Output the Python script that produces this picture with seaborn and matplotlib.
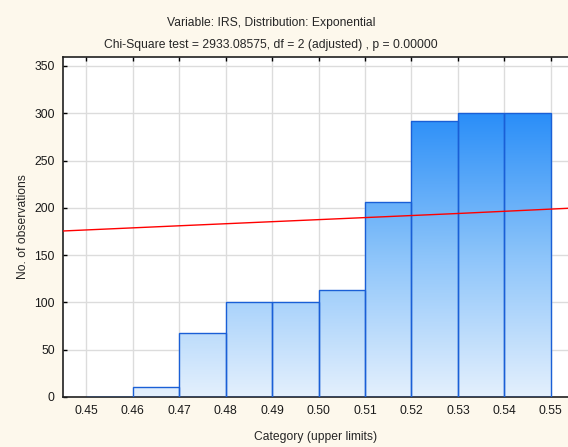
import numpy as np
import matplotlib
matplotlib.use("Agg")
import matplotlib.pyplot as plt
import seaborn as sns
from matplotlib.colors import LinearSegmentedColormap

# histogram data (upper limits of each category)
bin_edges = [0.45, 0.46, 0.47, 0.48, 0.49, 0.50, 0.51, 0.52, 0.53, 0.54, 0.55]
counts = [0, 10, 68, 100, 100, 113, 206, 292, 300, 300]

# fitted exponential curve (expected counts)
fit_x = [0.445, 0.47, 0.50, 0.53, 0.5537]
fit_y = [175.5, 181.0, 187.5, 194.0, 199.5]

x_ticks = [0.45, 0.46, 0.47, 0.48, 0.49, 0.50, 0.51, 0.52, 0.53, 0.54, 0.55]
y_ticks = [0, 50, 100, 150, 200, 250, 300, 350]

sns.set_style("white")
plt.rcParams['font.family'] = ['Liberation Sans', 'DejaVu Sans']

bg = '#fdf8ec'
fs = 8.7
fig = plt.figure(figsize=(5.68, 4.47), dpi=100, facecolor=bg)
ax = fig.add_axes([0.111, 0.112, 0.889, 0.7605])
ax.set_facecolor('white')

centers = [(a + b) / 2 for a, b in zip(bin_edges[:-1], bin_edges[1:])]
sns.histplot(x=centers, weights=counts, bins=bin_edges, ax=ax,
             facecolor='none', edgecolor='#1a5fd6', linewidth=1.0,
             element='bars', zorder=3)

ax.set_xlim(0.445, 0.5537)
ax.set_ylim(0, 359.5)

# vertical gradient fill, clipped to each bar
cmap = LinearSegmentedColormap.from_list('g', ['#e4f0fd', '#8cc4fa', '#2a8ef8'])
grad = np.linspace(0, 1, 256).reshape(-1, 1)
for p in ax.patches:
    if p.get_height() <= 0:
        continue
    im = ax.imshow(grad, cmap=cmap, aspect='auto', origin='lower',
                   extent=[0.445, 0.5537, 0, 300], zorder=2, vmin=0, vmax=1)
    im.set_clip_path(p)

ax.set_xlim(0.445, 0.5537)
ax.set_ylim(0, 359.5)

sns.lineplot(x=fit_x, y=fit_y, ax=ax, color='#ff0000', linewidth=1.0, zorder=4)

ax.set_xticks(x_ticks)
ax.set_xticklabels([f"{v:.2f}" for v in x_ticks])
ax.set_yticks(y_ticks)
ax.grid(True, color='#dcdcdc', linewidth=1.0, zorder=0)
ax.set_axisbelow(True)

ax.tick_params(axis='both', direction='in', length=3, width=1, colors='black',
               labelsize=fs, labelcolor='#1a1a1a', pad=6)
ax.tick_params(axis='x', top=True, bottom=False)
ax.tick_params(axis='y', left=True)

for side in ['left', 'top', 'bottom']:
    ax.spines[side].set_color('#202020')
    ax.spines[side].set_linewidth(1.2)
ax.spines['right'].set_visible(False)

ax.set_xlabel('Category (upper limits)', fontsize=fs, labelpad=10)
ax.set_ylabel('No. of observations', fontsize=fs, labelpad=4)

fig.text(0.477, 0.949, 'Variable: IRS, Distribution: Exponential',
         ha='center', va='center', fontsize=fs)
fig.text(0.477, 0.899, 'Chi-Square test = 2933.08575, df = 2 (adjusted) , p = 0.00000',
         ha='center', va='center', fontsize=fs)

fig.savefig('out.png', dpi=100, facecolor=bg)
